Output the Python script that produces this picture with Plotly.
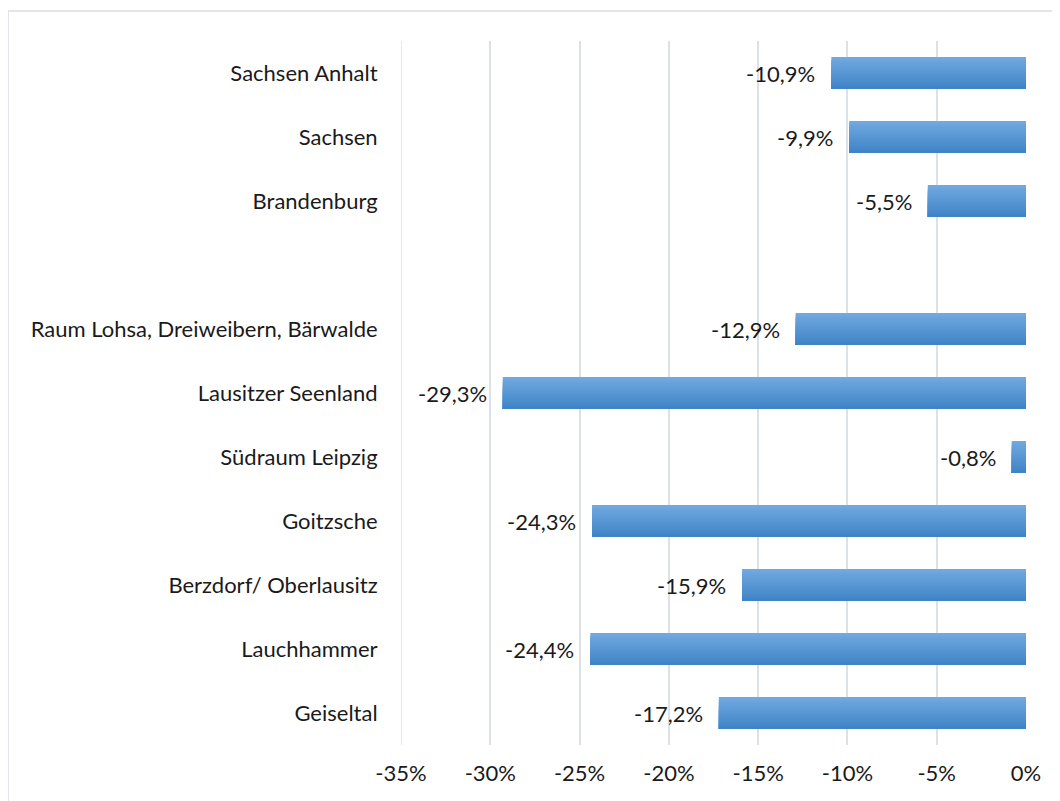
import plotly.graph_objects as go

categories = ["Sachsen Anhalt", "Sachsen", "Brandenburg", " ",
              "Raum Lohsa, Dreiweibern, Bärwalde", "Lausitzer Seenland",
              "Südraum Leipzig", "Goitzsche", "Berzdorf/ Oberlausitz",
              "Lauchhammer", "Geiseltal"]
values = [-10.9, -9.9, -5.5, None, -12.9, -29.3, -0.8, -24.3, -15.9, -24.4, -17.2]
tick_vals = [-35, -30, -25, -20, -15, -10, -5, 0]
tick_text = ["-35%", "-30%", "-25%", "-20%", "-15%", "-10%", "-5%", "0%"]

labels = ["" if v is None else f"{v:.1f}%".replace(".", ",") for v in values]

FONT = "Lato"
FS = 22
TXT = "#1a1a1a"
GRID = "#DCE1E8"
W, H = 1060, 801
OFF = 8  # page body margin
L, R, T, B = 401 - OFF, W - (1026 - OFF), 41 - OFF, H - (745 - OFF)
pw, ph = W - L - R, H - T - B

fig = go.Figure()

# gradient bars: overlapping layers, each from its start to the bar bottom
top = (0x70, 0xA8, 0xDF)
bot = (0x40, 0x84, 0xC8)
n = 12
bw = 0.5
for i in range(n):
    f = i / (n - 1)
    c = tuple(round(top[k] + (bot[k] - top[k]) * f) for k in range(3))
    start = -bw / 2 + i * bw / n
    fig.add_trace(go.Bar(
        y=categories, x=values, orientation="h",
        width=bw / 2 - start, offset=start,
        marker=dict(color="rgb(%d,%d,%d)" % c, line=dict(width=0)),
        hoverinfo="skip",
    ))

annotations = []
for cat, v, lab in zip(categories, values, labels):
    if v is None:
        continue
    annotations.append(dict(x=v, y=cat, xref="x", yref="y", text=lab,
                            showarrow=False, xanchor="right", yanchor="middle",
                            xshift=-14, font=dict(family=FONT, size=FS, color=TXT)))

fig.update_layout(
    width=W, height=H,
    margin=dict(l=L, r=R, t=T, b=B),
    paper_bgcolor="white", plot_bgcolor="white",
    showlegend=False, barmode="overlay",
    font=dict(family=FONT, size=FS, color=TXT),
    xaxis=dict(range=[-35, 0.0], tickvals=tick_vals, ticktext=tick_text,
               showgrid=True, gridcolor=GRID, gridwidth=1.5,
               zeroline=False, showline=False,
               ticks="outside", ticklen=9, tickcolor="rgba(0,0,0,0)",
               tickfont=dict(family=FONT, size=FS, color=TXT), fixedrange=True),
    yaxis=dict(categoryorder="array", categoryarray=categories,
               autorange="reversed", showgrid=False, zeroline=False, showline=False,
               ticks="outside", ticklen=18, tickcolor="rgba(0,0,0,0)",
               tickfont=dict(family=FONT, size=FS, color=TXT), fixedrange=True),
    annotations=annotations,
    shapes=[
        dict(type="rect", xref="paper", yref="paper",
             x0=(8 - OFF - L) / pw, x1=(W + 10 - L) / pw,
             y0=-(B + 10) / ph, y1=(H - B - (11 - OFF)) / ph,
             line=dict(color="#D9DEE4", width=1.5), fillcolor="rgba(0,0,0,0)",
             layer="below"),
        dict(type="line", xref="x", yref="paper",
             x0=tick_vals[0], x1=tick_vals[0], y0=0, y1=1,
             line=dict(color=GRID, width=1.5), layer="below"),
    ],
)

fig.write_html("out.html")
